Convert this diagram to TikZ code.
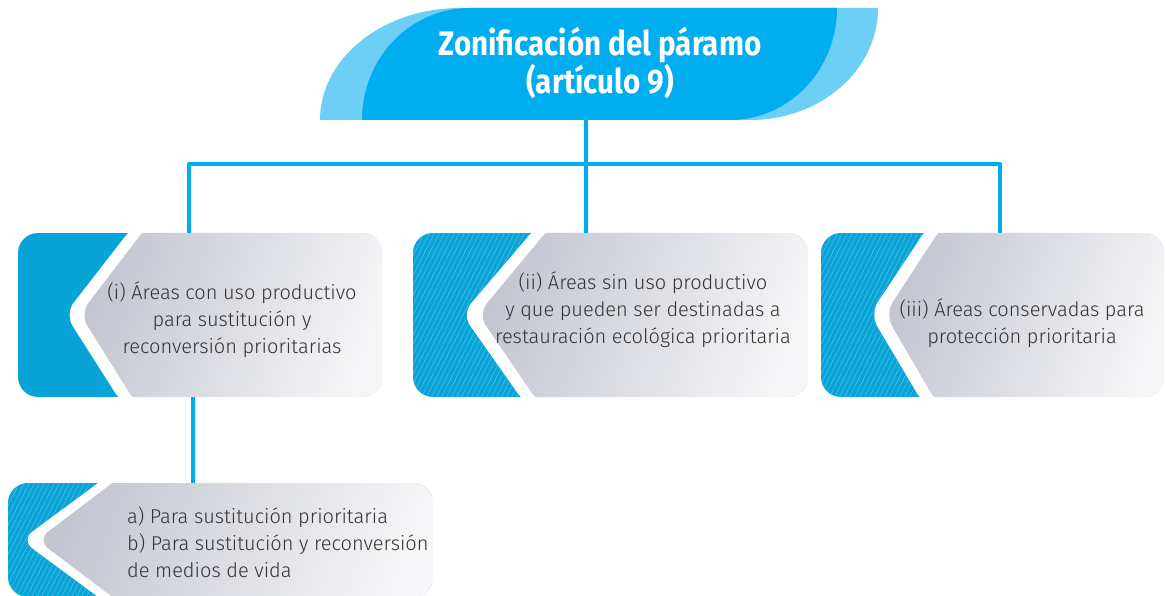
\documentclass[tikz,border=0pt]{standalone}
\usepackage{fontspec}
\newfontfamily\bodyfont{Fira Sans Light}
\newfontfamily\titlefont{Fira Sans}[FakeStretch=0.87]
\definecolor{hdrdark}{HTML}{00AEEF}
\definecolor{hdrlight}{HTML}{6DCFF6}
\definecolor{connblue}{HTML}{00AEEF}
\definecolor{boxblue}{HTML}{08A4D8}
\definecolor{hatchline}{HTML}{52BFE8}
\definecolor{grayA}{HTML}{C3C6D0}
\definecolor{grayB}{HTML}{F6F6F8}
\definecolor{txt}{HTML}{333333}
\begin{document}
\begin{tikzpicture}[x=1pt,y=-1pt,
  conn/.style={draw=connblue,line width=4pt},
  frame/.style={draw=none,inner sep=0pt,outer sep=0pt},
  bodytext/.style={font=\bodyfont\fontsize{20}{27}\selectfont,text=txt,align=center,inner sep=0pt},
  graypart/.style={left color=grayA,right color=grayB,shading angle=70},
  hatchstroke/.style={draw=hatchline,line width=0.5pt}]
\useasboundingbox (0,0) rectangle (1165,596);
% header
\fill[hdrlight] (320,120) .. controls (320,58) and (383,8) .. (460,8) -- (878,8)
  .. controls (878,70) and (821,120) .. (750,120) -- cycle;
\fill[hdrdark] (362,120) .. controls (362,58) and (410,8) .. (470,8) -- (837,8)
  .. controls (837,70) and (789,120) .. (730,120) -- cycle;
\node[text=white,align=center,inner sep=0pt,font=\titlefont\bfseries\fontsize{34}{35}\selectfont] (title) at (600,63) {Zonificación del páramo\\(artículo 9)};
\coordinate (hb) at (586,120);
% box frames
\node[frame,minimum width=364,minimum height=164] (b1) at (200,315) {};
\node[frame,minimum width=395,minimum height=164] (b2) at (610.5,315) {};
\node[frame,minimum width=344,minimum height=164] (b3) at (993,315) {};
\node[frame,minimum width=425,minimum height=114] (b4) at (220.5,540) {};
% box 1 (solid)
\begin{scope}
  \clip[rounded corners=20] (18,233) rectangle (382,397);
  \fill[boxblue] (18,233) rectangle (382,397);
  \fill[white,rounded corners=14] (134,225) -- (65,314) -- (123,405) -- (390,405) -- (390,225) -- cycle;
  \shade[graypart,rounded corners=14] (148,225) -- (80,314) -- (137,405) -- (390,405) -- (390,225) -- cycle;
\end{scope}
% box 2 (hatched)
\begin{scope}
  \clip[rounded corners=20] (413,233) rectangle (808,397);
  \fill[boxblue] (413,233) rectangle (808,397);
  \foreach \k in {0,...,48} {\draw[hatchstroke] (325+\k*5,400) -- ++(86,-170);}
  \fill[white,rounded corners=14] (538,225) -- (462,314) -- (526,405) -- (815,405) -- (815,225) -- cycle;
  \shade[graypart,rounded corners=14] (552,225) -- (478,314) -- (540,405) -- (815,405) -- (815,225) -- cycle;
\end{scope}
% box 3 (hatched)
\begin{scope}
  \clip[rounded corners=20] (821,233) rectangle (1164,397);
  \fill[boxblue] (821,233) rectangle (1164,397);
  \foreach \k in {0,...,44} {\draw[hatchstroke] (733+\k*5,400) -- ++(86,-170);}
  \fill[white,rounded corners=14] (929,225) -- (870,314) -- (924,405) -- (1170,405) -- (1170,225) -- cycle;
  \shade[graypart,rounded corners=14] (943,225) -- (885,314) -- (938,405) -- (1170,405) -- (1170,225) -- cycle;
\end{scope}
% box 4 (hatched)
\begin{scope}
  \clip[rounded corners=20] (8,483) rectangle (433,597);
  \fill[boxblue] (8,483) rectangle (433,597);
  \foreach \k in {0,...,38} {\draw[hatchstroke] (-55+\k*5,600) -- ++(62,-122);}
  \fill[white,rounded corners=14] (109,475) -- (21,540) -- (109,605) -- (440,605) -- (440,475) -- cycle;
  \shade[graypart,rounded corners=14] (123,475) -- (37,540) -- (123,605) -- (440,605) -- (440,475) -- cycle;
\end{scope}
% texts
\node[bodytext] (t1) at (232,320) {(i) Áreas con uso productivo\\para sustitución y\\reconversión prioritarias};
\node[bodytext] (t2) at (643,310) {(ii) Áreas sin uso productivo\\y que pueden ser destinadas a\\restauración ecológica prioritaria};
\node[bodytext] (t3) at (1022,323) {(iii) Áreas conservadas para\\protección prioritaria};
\node[bodytext,align=left,anchor=west] (t4) at (127,542) {a) Para sustitución prioritaria\\b) Para sustitución y reconversión\\de medios de vida};
% connectors
\coordinate (jc) at (586,164);
\coordinate (jl) at (189,164);
\coordinate (jr) at (1000,164);
\coordinate (vx) at (192.5,0);
\draw[conn] (hb) -- (jc);
\draw[conn,line cap=round] (jl) -- (jr);
\draw[conn] (jl) -- (jl |- b1.north);
\draw[conn] (jc) -- (jc |- b2.north);
\draw[conn] (jr) -- (jr |- b3.north);
\draw[conn] (vx |- b1.south) -- (vx |- b4.north);
\end{tikzpicture}
\end{document}
